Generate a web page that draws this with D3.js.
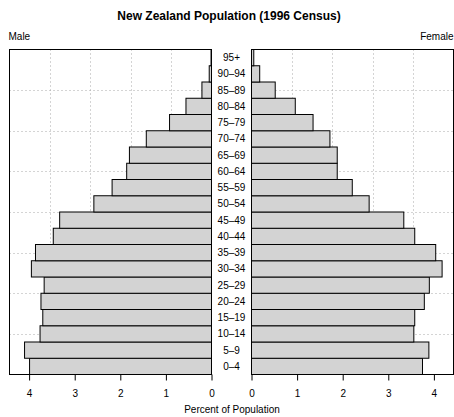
<!DOCTYPE html>
<html>
<head>
<meta charset="utf-8">
<script src="https://cdn.jsdelivr.net/npm/d3@7"></script>
<style>
  html, body { margin: 0; padding: 0; background: #fff; }
  svg { display: block; }
  text { font-family: "Liberation Sans", Arial, Helvetica, sans-serif; fill: #000; }
</style>
</head>
<body>
<svg id="chart" width="454" height="417"></svg>
<script>
// ---- data ----
const ageGroups = ["0–4","5–9","10–14","15–19","20–24","25–29","30–34","35–39","40–44","45–49",
                   "50–54","55–59","60–64","65–69","70–74","75–79","80–84","85–89","90–94","95+"];
const maleValues = [3.99,4.10,3.76,3.70,3.74,3.67,3.95,3.86,3.47,3.33,
                    2.58,2.18,1.86,1.80,1.43,0.92,0.56,0.21,0.05,0.01];
const femaleValues = [3.75,3.89,3.56,3.58,3.79,3.90,4.18,4.04,3.58,3.34,
                      2.58,2.21,1.88,1.88,1.72,1.35,0.96,0.52,0.18,0.05];
const xTicks = [0,1,2,3,4];
const titleText = "New Zealand Population (1996 Census)";
const leftLabel = "Male";
const rightLabel = "Female";
const xAxisLabel = "Percent of Population";

// ---- layout ----
const svg = d3.select("#chart");
const plotTop = 49.5, plotBottom = 374.5;
const leftPanel = {x0: 9.5, x1: 211.5};
const rightPanel = {x0: 251.5, x1: 453.5};
const xMax = 4.43;

const y = d3.scaleBand().domain(ageGroups.slice().reverse()).range([plotTop, plotBottom]).padding(0);
const xL = d3.scaleLinear().domain([0, xMax]).range([leftPanel.x1, leftPanel.x0]);
const xR = d3.scaleLinear().domain([0, xMax]).range([rightPanel.x0, rightPanel.x1]);

const gridColor = "#a9a9a9";

function drawPanel(xs, values, panel) {
  const g = svg.append("g");
  // grid: 5 equal vertical divisions, 8 horizontal
  const xd = xs.domain();
  for (let k = 1; k < 5; k++) {
    const v = xd[0] + (xd[1] - xd[0]) * k / 5;
    const px = Math.round(xs(v)) + 0.5;
    g.append("line").attr("x1", px).attr("x2", px).attr("y1", plotTop).attr("y2", plotBottom)
      .attr("stroke", gridColor).attr("stroke-width", 1).attr("stroke-dasharray", "1,3");
  }
  for (let k = 1; k < 8; k++) {
    const py = Math.round(plotTop + (plotBottom - plotTop) * k / 8) + 0.5;
    g.append("line").attr("x1", panel.x0).attr("x2", panel.x1).attr("y1", py).attr("y2", py)
      .attr("stroke", gridColor).attr("stroke-width", 1).attr("stroke-dasharray", "1,3");
  }
  // bars
  g.selectAll("rect.bar").data(ageGroups.map((a, i) => ({age: a, v: values[i]})))
    .enter().append("rect").attr("class", "bar")
    .attr("x", d => Math.min(xs(0), xs(d.v)))
    .attr("width", d => Math.abs(xs(d.v) - xs(0)))
    .attr("y", d => y(d.age))
    .attr("height", y.bandwidth())
    .attr("fill", "#d3d3d3")
    .attr("stroke", "#000")
    .attr("stroke-width", 1);
  // box
  g.append("rect").attr("x", panel.x0).attr("y", plotTop)
    .attr("width", panel.x1 - panel.x0).attr("height", plotBottom - plotTop)
    .attr("fill", "none").attr("stroke", "#000").attr("stroke-width", 1);
  // axis
  const axis = d3.axisBottom(xs).tickValues(xTicks).tickSize(6).tickSizeOuter(0).tickFormat(d3.format("d"));
  const ag = svg.append("g").attr("transform", `translate(0,${plotBottom})`).call(axis);
  ag.select(".domain").remove();
  ag.selectAll(".tick line").attr("stroke", "#000");
  ag.selectAll(".tick text").attr("y", 22.5).attr("dy", null)
    .attr("font-size", "10px").attr("fill", "#000")
    .style("font-family", "'Liberation Sans', Arial, Helvetica, sans-serif");
}

drawPanel(xL, maleValues, leftPanel);
drawPanel(xR, femaleValues, rightPanel);

// age labels
const midX = (leftPanel.x1 + rightPanel.x0) / 2;
svg.append("g").selectAll("text").data(ageGroups).enter().append("text")
  .attr("x", midX).attr("y", d => y(d) + y.bandwidth() / 2 + 3.6)
  .attr("text-anchor", "middle").attr("font-size", "10px").text(d => d);

// titles
svg.append("text").attr("x", 229).attr("y", 19.5).attr("text-anchor", "middle")
  .attr("font-size", "12px").attr("font-weight", "bold").text(titleText);
svg.append("text").attr("x", 8.5).attr("y", 40).attr("font-size", "10px").text(leftLabel);
svg.append("text").attr("x", 453.5).attr("y", 40).attr("text-anchor", "end").attr("font-size", "10px").text(rightLabel);
svg.append("text").attr("x", 232).attr("y", 413).attr("text-anchor", "middle").attr("font-size", "10px").text(xAxisLabel);
</script>
</body>
</html>
